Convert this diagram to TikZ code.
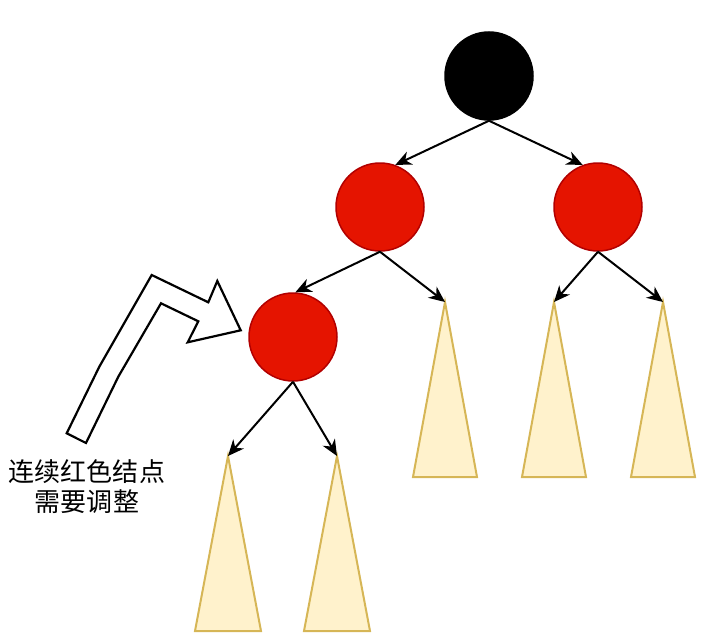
\documentclass[tikz,border=0pt]{standalone}
\usepackage{fontspec}
\newfontfamily\cjk{Noto Sans CJK SC}
\usetikzlibrary{arrows.meta}
\definecolor{redfill}{HTML}{E51400}
\definecolor{redline}{HTML}{B20000}
\definecolor{subfill}{HTML}{FFF2CC}
\definecolor{subline}{HTML}{D6B656}
\begin{document}
\begin{tikzpicture}[
    x=1pt, y=-1pt,
    rbnode/.style={draw, circle, minimum size=88pt, inner sep=0pt, line width=1.5pt},
    blacknode/.style={rbnode, fill=black},
    rednode/.style={rbnode, fill=redfill, draw=redline},
    subtree/.style={draw=subline, fill=subfill, line width=2pt, line join=miter},
    link/.style={draw, line width=2pt, -{Stealth[length=16pt, width=14pt, inset=5pt]}},
    hint/.style={draw, line width=2.2pt, fill=white, line join=miter}
]
\useasboundingbox (0,0) rectangle (717,642);
\node[blacknode] (root) at (489,76) {};
\node[rednode] (l) at (380,207) {};
\node[rednode] (r) at (598,207) {};
\node[rednode] (ll) at (293,337) {};
\coordinate (lr) at (445,302);
\coordinate (rl) at (554,302);
\coordinate (rr) at (663,302);
\coordinate (lll) at (228,456);
\coordinate (llr) at (337,456);
\foreach \t in {lr, rl, rr}
    \draw[subtree] (\t) -- ++(-32,175) -- ++(64,0) -- cycle;
\foreach \t in {lll, llr}
    \draw[subtree] (\t) -- ++(-33,175) -- ++(66,0) -- cycle;
\draw[link] (root.south) -- (l.70);
\draw[link] (root.south) -- (r.110);
\draw[link] (l.south) -- (ll.87);
\draw[link] (l.south) -- (lr);
\draw[link] (r.south) -- (rl);
\draw[link] (r.south) -- (rr);
\draw[link] (ll.south) -- (lll);
\draw[link] (ll.south) -- (llr);
\draw[hint] (151.7,275) -- (208.3,302.3) -- (217.3,281) -- (240.7,330.3)
    -- (187.7,342.3) -- (198.3,321.3) -- (161,303.3) -- (118.3,376.7)
    -- (86,443) -- (66.7,433.3) -- (99.3,366.7) -- cycle;
\node[align=center, font=\cjk\fontsize{26}{30}\selectfont] (note) at (87,487)
    {连续红色结点\\需要调整};
\end{tikzpicture}
\end{document}
